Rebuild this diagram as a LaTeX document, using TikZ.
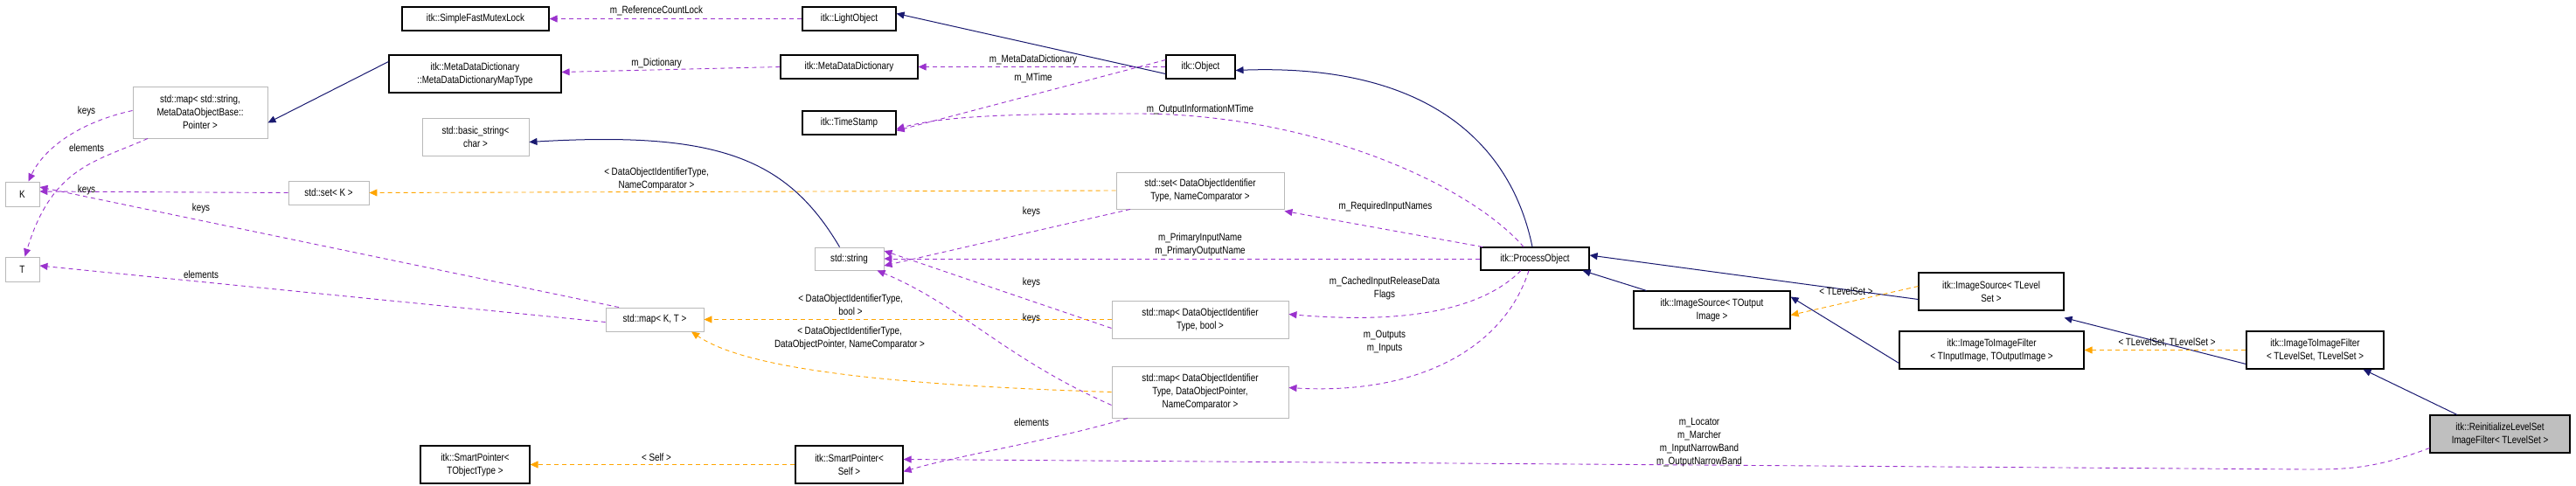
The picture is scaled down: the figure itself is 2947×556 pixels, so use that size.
\documentclass[tikz,border=0pt]{standalone}
\usepackage{fontspec}
\setmainfont{Liberation Sans}[FakeStretch=0.82]
\usetikzlibrary{arrows.meta}
\definecolor{navy}{HTML}{191970}
\definecolor{purp}{HTML}{9A32CD}
\definecolor{orng}{HTML}{FFA500}
\begin{document}
\begin{tikzpicture}[x=1pt,y=-1pt,
  every node/.style={font=\fontsize{12}{15}\selectfont},
  box/.style={draw=black,line width=1.1pt,fill=white,align=center,inner sep=1pt,minimum width=#1},
  sbox/.style={draw=gray!55,line width=0.9pt,fill=white,align=center,inner sep=1pt,minimum width=#1},
  inh/.style={navy,line width=1pt,-{Triangle[length=9pt,width=8pt]}},
  use/.style={purp,line width=0.9pt,dash pattern=on 5pt off 4pt,-{Triangle[length=9pt,width=8pt]}},
  tpl/.style={orng,line width=0.9pt,dash pattern=on 5pt off 4pt,-{Triangle[length=9pt,width=8pt]}},
  lbl/.style={align=center,inner sep=0pt,fill=none}]
\useasboundingbox (0,0) rectangle (2947,556);
% nodes
\node[box=168,minimum height=27] (sfml) at (544,21.5) {itk::SimpleFastMutexLock};
\node[box=107,minimum height=27] (light) at (971.5,21.5) {itk::LightObject};
\node[box=197,minimum height=43] (mdmt) at (543.5,84.5) {itk::MetaDataDictionary\\::MetaDataDictionaryMapType};
\node[box=157,minimum height=27] (mdd) at (971.5,76.5) {itk::MetaDataDictionary};
\node[sbox=154,minimum height=59] (mapstr) at (229,128.5) {std::map< std::string,\\ MetaDataObjectBase::\\Pointer >};
\node[box=107,minimum height=27] (ts) at (971.5,140.5) {itk::TimeStamp};
\node[sbox=122,minimum height=43] (bstr) at (544,156.5) {std::basic\_string<\\ char >};
\node[sbox=39,minimum height=28] (K) at (25.5,222) {K};
\node[sbox=39,minimum height=28] (T) at (25.5,308) {T};
\node[sbox=92,minimum height=27] (setK) at (376,220.5) {std::set< K >};
\node[sbox=79,minimum height=26] (str) at (971.5,296) {std::string};
\node[sbox=112,minimum height=27] (mapKT) at (749,365.5) {std::map< K, T >};
\node[box=125,minimum height=43] (spT) at (543.5,531.5) {itk::SmartPointer<\\ TObjectType >};
\node[box=123,minimum height=43] (spS) at (971.5,531.5) {itk::SmartPointer<\\ Self >};
\node[box=79,minimum height=27] (obj) at (1373.5,76.5) {itk::Object};
\node[sbox=192,minimum height=42] (setD) at (1373,218) {std::set< DataObjectIdentifier\\Type, NameComparator >};
\node[box=124,minimum height=26] (po) at (1756,296) {itk::ProcessObject};
\node[sbox=202,minimum height=43] (mapB) at (1373,365.5) {std::map< DataObjectIdentifier\\Type, bool >};
\node[sbox=202,minimum height=59] (mapP) at (1373,448.5) {std::map< DataObjectIdentifier\\Type, DataObjectPointer,\\ NameComparator >};
\node[box=179,minimum height=43] (isO) at (1958.5,354.5) {itk::ImageSource< TOutput\\ Image >};
\node[box=166,minimum height=43] (isL) at (2278,333.5) {itk::ImageSource< TLevel\\ Set >};
\node[box=211,minimum height=43] (itiIO) at (2278.5,400.5) {itk::ImageToImageFilter\\< TInputImage, TOutputImage >};
\node[box=157,minimum height=43] (itiL) at (2648.5,400.5) {itk::ImageToImageFilter\\< TLevelSet, TLevelSet >};
\node[box=160,minimum height=43,fill=gray!50] (re) at (2860,496.5) {itk::ReinitializeLevelSet\\ImageFilter< TLevelSet >};
% edges
\draw[use] (light.west) -- (sfml.east);
\node[lbl] (l1) at (751,12) {m\_ReferenceCountLock};
\draw[inh] ([yshift=-8]obj.west) -- ([yshift=6]light.east);
\draw[use] (obj.west) -- (mdd.east);
\node[lbl] (l2) at (1182,68) {m\_MetaDataDictionary};
\draw[use] ([yshift=8]obj.west) -- ([yshift=-9]ts.east);
\node[lbl] (l3) at (1182,89) {m\_MTime};
\draw[use] (mdd.west) -- ([yshift=2]mdmt.east);
\node[lbl] (l4) at (751,72) {m\_Dictionary};
\draw[inh] ([yshift=14]mdmt.west) -- ([yshift=-12]mapstr.east);
\draw[use] ([yshift=2]mapstr.west) .. controls (90,140) and (50,170) .. ([xshift=7]K.north);
\node[lbl] (l5) at (99,127) {keys};
\draw[use] ([xshift=-60]mapstr.south) .. controls (110,185) and (60,190) .. ([xshift=3]T.north);
\node[lbl] (l6) at (99,169) {elements};
\draw[use] (setK.west) -- ([yshift=3]K.east);
\node[lbl] (l7) at (99,217) {keys};
\draw[use] ([xshift=-41]mapKT.north) -- ([yshift=8]K.east);
\node[lbl] (l8) at (230,238) {keys};
\draw[use] ([yshift=-3]mapKT.west) -- ([yshift=4]T.east);
\node[lbl] (l9) at (230,314) {elements};
\draw[tpl] (setD.west) -- (setK.east);
\node[lbl] (l10) at (751,205) {< DataObjectIdentifierType,\\ NameComparator >};
\draw[inh] ([xshift=-11]str.north) .. controls (900,180) and (820,150) .. ([yshift=-6]bstr.east);
\draw[use] ([xshift=-80]setD.south) -- ([yshift=-8]str.east);
\node[lbl] (l11) at (1180,242) {keys};
\draw[use] (po.west) -- (str.east);
\node[lbl] (l12) at (1373,280) {m\_PrimaryInputName\\m\_PrimaryOutputName};
\draw[use] ([yshift=-10]mapB.west) -- ([yshift=9]str.east);
\node[lbl] (l13) at (1180,323) {keys};
\draw[use] ([yshift=-15]mapP.west) .. controls (1150,410) and (1100,350) .. ([xshift=32]str.south);
\node[lbl] (l14) at (1180,364) {keys};
\draw[tpl] (mapB.west) -- (mapKT.east);
\node[lbl] (l15) at (973,349) {< DataObjectIdentifierType,\\ bool >};
\draw[tpl] (mapP.west) .. controls (1000,440) and (850,420) .. ([xshift=42]mapKT.south);
\node[lbl] (l16) at (972,387) {< DataObjectIdentifierType,\\ DataObjectPointer, NameComparator >};
\draw[use] ([xshift=-83]mapP.south) .. controls (1200,505) and (1100,520) .. ([yshift=-8]spS.east);
\node[lbl] (l17) at (1180,483) {elements};
\draw[tpl] (spS.west) -- (spT.east);
\node[lbl] (l18) at (751,523) {< Self >};
\draw[use] ([yshift=6]re.south west) .. controls (2720,535) and (2690,537) .. (2640,537) -- ([yshift=6]spS.east);
\node[lbl] (l19) at (1944,506) {m\_Locator\\m\_Marcher\\m\_InputNarrowBand\\m\_OutputNarrowBand};
\draw[inh] ([xshift=-3]po.north) .. controls (1730,170) and (1640,72) .. ([yshift=-4]obj.east);
\draw[use] ([xshift=-13]po.north) .. controls (1680,210) and (1500,130) .. (1300,130) .. controls (1150,130) and (1080,133) .. ([yshift=-7]ts.east);
\node[lbl] (l20) at (1373,125) {m\_OutputInformationMTime};
\draw[use] ([xshift=-60]po.north) -- ([yshift=-2]setD.south east);
\node[lbl] (l21) at (1585,236) {m\_RequiredInputNames};
\draw[use] ([xshift=-16]po.south) .. controls (1700,350) and (1620,372) .. ([yshift=6]mapB.east);
\node[lbl] (l22) at (1584,330) {m\_CachedInputReleaseData\\Flags};
\draw[use] ([xshift=-7]po.south) .. controls (1720,400) and (1620,452) .. ([yshift=5]mapP.east);
\node[lbl] (l23) at (1584,391) {m\_Outputs\\m\_Inputs};
\draw[inh] ([xshift=-75]isO.north) -- ([xshift=-8]po.south east);
\draw[inh] ([yshift=-9]isL.west) -- ([yshift=4]po.east);
\draw[tpl] ([yshift=6]isL.west) -- ([yshift=-6]isO.east);
\node[lbl] (l24) at (2112,333) {< TLevelSet >};
\draw[inh] ([yshift=-15]itiIO.west) -- ([yshift=15]isO.east);
\draw[inh] ([yshift=-16]itiL.west) -- ([yshift=-8]isL.south east);
\draw[tpl] (itiL.west) -- (itiIO.east);
\node[lbl] (l25) at (2479,392) {< TLevelSet, TLevelSet >};
\draw[inh] ([xshift=-49]re.north) -- ([xshift=55]itiL.south);
\end{tikzpicture}
\end{document}
